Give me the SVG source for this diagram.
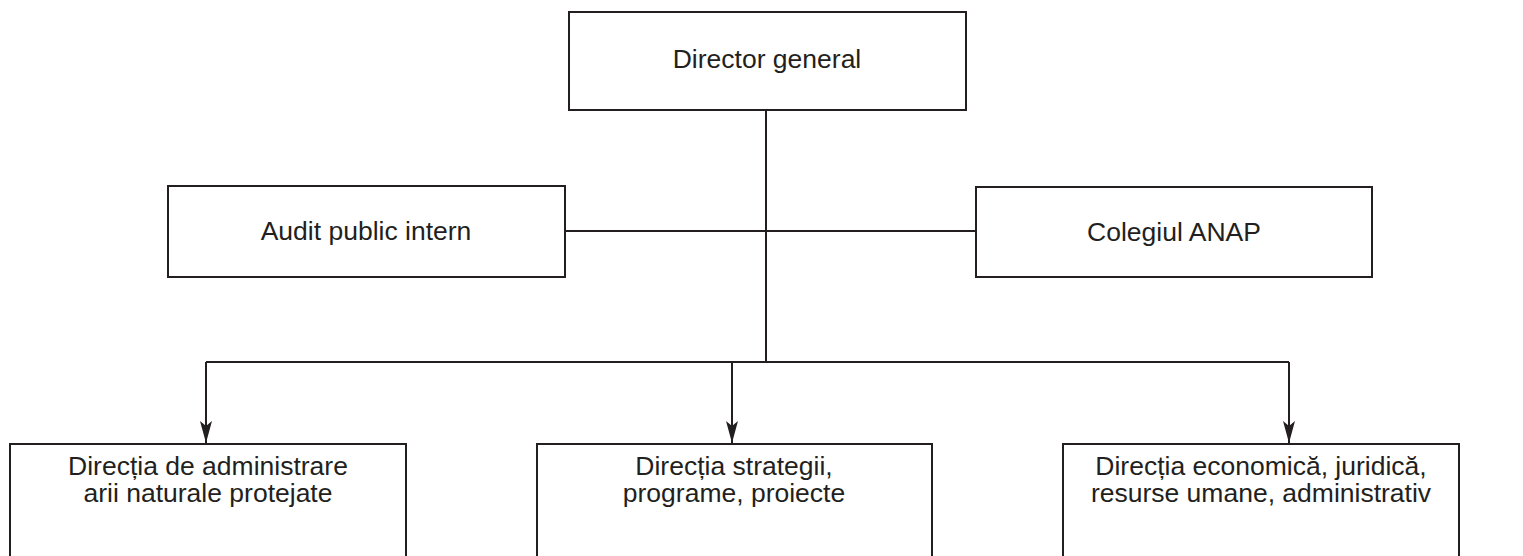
<svg xmlns="http://www.w3.org/2000/svg" width="1523" height="556" viewBox="0 0 1523 556">
<defs>
<style>
.box{fill:#fff;stroke:#231f20;stroke-width:2}
.t{font-family:"Liberation Sans",Arial,sans-serif;font-size:26.5px;fill:#231f20;text-anchor:middle}
.c{fill:none;stroke:#231f20;stroke-width:2}
</style>
<marker id="ah" markerWidth="22" markerHeight="12" refX="22" refY="6" orient="auto" markerUnits="userSpaceOnUse" viewBox="0 0 22 12">
<path d="M0,0 L22,6 L0,12 L5,6 Z" fill="#231f20"/>
</marker>
</defs>
<rect width="1523" height="556" fill="#fff"/>
<g id="connectors">
<line class="c" x1="766" y1="110" x2="766" y2="362"/>
<line class="c" x1="565" y1="231" x2="976" y2="231"/>
<line class="c" x1="206" y1="362" x2="1289" y2="362"/>
<path class="c" d="M206,362 V443" marker-end="url(#ah)"/>
<path class="c" d="M732,362 V443" marker-end="url(#ah)"/>
<path class="c" d="M1289,362 V443" marker-end="url(#ah)"/>
</g>
<g id="director">
<rect class="box" x="569" y="12" width="397" height="98"/>
<text class="t" x="767" y="68">Director general</text>
</g>
<g id="audit">
<rect class="box" x="168" y="186" width="397" height="91"/>
<text class="t" x="366" y="240">Audit public intern</text>
</g>
<g id="colegiul">
<rect class="box" x="976" y="187" width="396" height="90"/>
<text class="t" x="1174" y="241">Colegiul ANAP</text>
</g>
<g id="dir-admin">
<rect class="box" x="10" y="444" width="396" height="120"/>
<text class="t" x="208" y="475">Direcția de administrare</text>
<text class="t" x="208" y="502">arii naturale protejate</text>
</g>
<g id="dir-strategii">
<rect class="box" x="537" y="444" width="395" height="120"/>
<text class="t" x="734" y="475">Direcția strategii,</text>
<text class="t" x="734" y="502">programe, proiecte</text>
</g>
<g id="dir-economica">
<rect class="box" x="1063" y="444" width="396" height="120"/>
<text class="t" x="1261" y="475">Direcția economică, juridică,</text>
<text class="t" x="1261" y="502">resurse umane, administrativ</text>
</g>
</svg>
